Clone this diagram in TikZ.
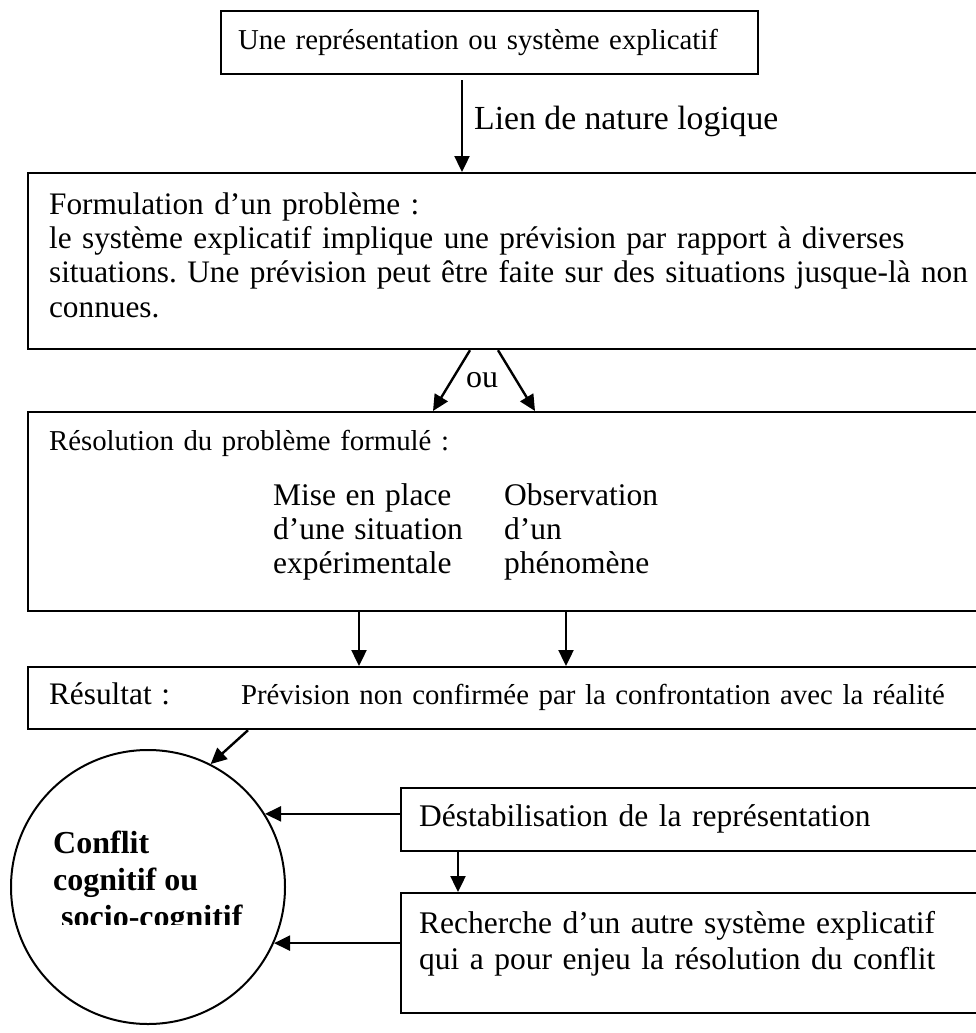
\documentclass[tikz,border=0pt]{standalone}
\usepackage{fontspec}
\setmainfont{Liberation Serif}[Ligatures=NoCommon]
\usepackage{tikz}
\usetikzlibrary{arrows.meta,positioning,calc}
\newcommand{\smallsize}{\fontsize{28.8}{34}\selectfont}
\newcommand{\bodysize}{\fontsize{31.3}{34.3}\selectfont}
\newcommand{\colsize}{\fontsize{31.5}{34}\selectfont}
\newcommand{\liensize}{\fontsize{33.7}{38}\selectfont}
\frenchspacing

\begin{document}
\begin{tikzpicture}[x=1pt, y=-1pt, font=\bodysize]
  \tikzstyle{block} = [rectangle, draw, line width=2.2pt, anchor=north west, align=left, inner ysep=0pt]
  \tikzstyle{line} = [draw, line width=2.4pt, -{Triangle[length=16pt,width=15pt]}]
  \useasboundingbox (0,0) rectangle (975,1033);

  \node [block, font=\smallsize, inner xsep=17pt, text width=503pt, text height=38pt, text depth=25pt] (rep) at (220,10) {Une représentation ou système explicatif};
  \node [block, inner xsep=21pt, text width=941pt, text height=41pt, text depth=135pt] (formul) at (27,172) {Formulation d’un problème :\\le système explicatif implique une prévision par rapport à diverses\\situations. Une prévision peut être faite sur des situations jusque-là non\\connues.};
  \node [block, font=\smallsize, inner xsep=21pt, text width=941pt, text height=38.5pt, text depth=160.5pt] (resol) at (27,411) {Résolution du problème formulé :\\[21pt]\hspace*{224pt}{\colsize\begin{tabular}[t]{@{}p{231pt}@{}l@{}}Mise en place & Observation\\d’une situation & d’un\\expérimentale & phénomène\end{tabular}}};
  \node [block, font=\smallsize, inner xsep=21pt, text width=941pt, text height=37.5pt, text depth=24.5pt] (result) at (27,666) {\makebox[192pt][l]{\bodysize Résultat :}Prévision non confirmée par la confrontation avec la réalité};
  \node [block, font=\colsize, inner xsep=18pt, text width=574pt, text height=38.5pt, text depth=24.5pt] (destab) at (400,787) {Déstabilisation de la représentation};
  \node [block, font=\fontsize{31.5}{36}\selectfont, inner xsep=18pt, text width=574pt, text height=40.5pt, text depth=79.5pt] (recherche) at (400,892) {Recherche d’un autre système explicatif\\qui a pour enjeu la résolution du conflit};

  \node [circle, draw, line width=2pt, minimum size=274pt, inner sep=0pt] (conflit) at (148,887) {};
  \begin{scope}
    \clip (20,800) rectangle (290,924);
    \node [anchor=north west, inner sep=0pt, align=left, font=\bfseries\fontsize{32}{37}\selectfont] (conflitlbl) at (53,831) {Conflit\\cognitif ou\\\hspace*{8pt}socio-cognitif};
  \end{scope}

  \path [line] ([xshift=242pt,yshift=-5pt]rep.south west) -- node [pos=0.45, right=11pt, inner sep=0pt, font=\liensize] (lien) {Lien de nature logique} ([xshift=435pt]formul.north west);
  \path [line] ([xshift=443pt]formul.south west) -- ([xshift=406pt]resol.north west);
  \path [line] ([xshift=471pt]formul.south west) -- ([xshift=508pt]resol.north west);
  \node [font=\fontsize{32}{36}\selectfont] (ou) at (482,380) {ou};
  \path [line] ([xshift=332pt]resol.south west) -- ([xshift=332pt]result.north west);
  \path [line] ([xshift=539pt]resol.south west) -- ([xshift=539pt]result.north west);
  \path [line] ([xshift=221pt]result.south west) -- (conflit.63);
  \path [line] (destab.west |- conflit.32) -- (conflit.32);
  \path [line] ([xshift=58pt]destab.south west) -- ([xshift=58pt]recherche.north west);
  \path [line] (recherche.west |- conflit.-24) -- (conflit.-24);
\end{tikzpicture}
\end{document}
